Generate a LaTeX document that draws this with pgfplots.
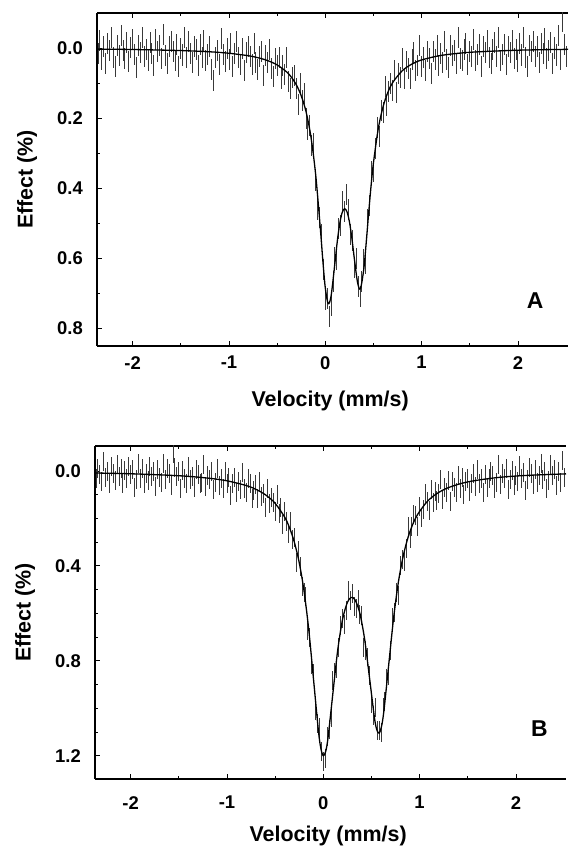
\documentclass[border=0pt]{standalone}
\usepackage{pgfplots}
\pgfplotsset{compat=1.18}
\usepackage{pgfplotstable}
\usepackage{fontspec}
\setmainfont{Liberation Sans}

\pgfplotstableread[row sep=\\]{
x y\\
-2.36 0.015\\ -2.34 -0.022\\ -2.32 0.033\\ -2.30 -0.005\\ -2.28 0.044\\ -2.26 -0.012\\ -2.24 0.008\\ -2.22 -0.030\\ -2.20 0.026\\ -2.18 0.052\\
-2.16 -0.006\\ -2.14 0.022\\ -2.12 -0.036\\ -2.10 0.007\\ -2.08 0.031\\ -2.06 -0.015\\ -2.04 0.039\\ -2.02 -0.001\\ -2.00 -0.024\\ -1.98 0.018\\
-1.96 0.056\\ -1.94 -0.008\\ -1.92 0.012\\ -1.90 -0.031\\ -1.88 0.025\\ -1.86 0.003\\ -1.84 0.036\\ -1.82 -0.017\\ -1.80 0.016\\ -1.78 0.049\\
-1.76 -0.025\\ -1.74 0.011\\ -1.72 -0.008\\ -1.70 0.031\\ -1.68 -0.039\\ -1.66 0.022\\ -1.64 0.044\\ -1.62 -0.003\\ -1.60 -0.018\\ -1.58 0.009\\
-1.56 0.036\\ -1.54 -0.010\\ -1.52 0.053\\ -1.50 0.001\\ -1.48 0.020\\ -1.46 -0.031\\ -1.44 0.028\\ -1.42 -0.019\\ -1.40 0.017\\ -1.38 0.042\\
-1.36 -0.003\\ -1.34 0.005\\ -1.32 0.049\\ -1.30 -0.011\\ -1.28 0.027\\ -1.26 -0.022\\ -1.24 0.036\\ -1.22 0.018\\ -1.20 -0.005\\ -1.18 0.061\\
-1.16 0.092\\ -1.14 0.028\\ -1.12 0.006\\ -1.10 0.046\\ -1.08 -0.028\\ -1.06 0.018\\ -1.04 0.038\\ -1.02 0.001\\ -1.00 0.034\\ -0.98 -0.014\\
-0.96 0.053\\ -0.94 0.016\\ -0.92 -0.018\\ -0.90 0.028\\ -0.88 0.047\\ -0.86 0.001\\ -0.84 0.063\\ -0.82 0.013\\ -0.80 -0.004\\ -0.78 0.024\\
-0.76 0.048\\ -0.74 -0.013\\ -0.72 0.041\\ -0.70 0.060\\ -0.68 0.025\\ -0.66 0.010\\ -0.64 0.079\\ -0.62 0.022\\ -0.60 0.042\\ -0.58 0.004\\
-0.56 0.058\\ -0.54 0.082\\ -0.52 0.030\\ -0.50 0.050\\ -0.48 0.027\\ -0.46 0.086\\ -0.44 0.051\\ -0.42 0.077\\ -0.40 0.026\\ -0.38 0.097\\
-0.36 0.117\\ -0.34 0.083\\ -0.32 0.078\\ -0.30 0.117\\ -0.28 0.162\\ -0.26 0.101\\ -0.24 0.149\\ -0.22 0.130\\ -0.20 0.202\\ -0.18 0.234\\
-0.16 0.221\\ -0.14 0.278\\ -0.12 0.273\\ -0.10 0.377\\ -0.08 0.461\\ -0.06 0.483\\ -0.04 0.533\\ -0.02 0.632\\ 0.00 0.718\\ 0.02 0.715\\
0.04 0.768\\ 0.06 0.734\\ 0.08 0.668\\ 0.10 0.597\\ 0.12 0.603\\ 0.14 0.515\\ 0.16 0.507\\ 0.18 0.437\\ 0.20 0.468\\ 0.22 0.417\\
0.24 0.461\\ 0.26 0.534\\ 0.28 0.551\\ 0.30 0.627\\ 0.32 0.601\\ 0.34 0.680\\ 0.36 0.710\\ 0.38 0.667\\ 0.40 0.604\\ 0.42 0.614\\
0.44 0.489\\ 0.46 0.451\\ 0.48 0.352\\ 0.50 0.354\\ 0.52 0.287\\ 0.54 0.227\\ 0.56 0.253\\ 0.58 0.179\\ 0.60 0.185\\ 0.62 0.110\\
0.64 0.164\\ 0.66 0.124\\ 0.68 0.100\\ 0.70 0.120\\ 0.72 0.065\\ 0.74 0.127\\ 0.76 0.074\\ 0.78 0.085\\ 0.80 0.030\\ 0.82 0.088\\
0.84 0.038\\ 0.86 0.058\\ 0.88 0.086\\ 0.90 0.034\\ 0.92 0.014\\ 0.94 0.064\\ 0.96 0.049\\ 0.98 -0.006\\ 1.00 0.052\\ 1.02 0.026\\
1.04 0.064\\ 1.06 0.009\\ 1.08 0.031\\ 1.10 0.073\\ 1.12 0.011\\ 1.14 0.034\\ 1.16 -0.008\\ 1.18 0.049\\ 1.20 0.017\\ 1.22 0.040\\
1.24 -0.019\\ 1.26 0.032\\ 1.28 0.057\\ 1.30 -0.006\\ 1.32 0.021\\ 1.34 0.006\\ 1.36 0.045\\ 1.38 -0.030\\ 1.40 0.030\\ 1.42 0.036\\
1.44 0.005\\ 1.46 -0.014\\ 1.48 0.048\\ 1.50 0.011\\ 1.52 0.024\\ 1.54 -0.023\\ 1.56 0.036\\ 1.58 0.019\\ 1.60 -0.009\\ 1.62 0.053\\
1.64 -0.004\\ 1.66 0.012\\ 1.68 -0.021\\ 1.70 0.028\\ 1.72 0.043\\ 1.74 0.003\\ 1.76 -0.016\\ 1.78 0.023\\ 1.80 -0.031\\ 1.82 0.036\\
1.84 0.018\\ 1.86 -0.009\\ 1.88 0.047\\ 1.90 -0.004\\ 1.92 0.014\\ 1.94 -0.021\\ 1.96 0.030\\ 1.98 0.004\\ 2.00 0.038\\ 2.02 -0.014\\
2.04 0.020\\ 2.06 -0.031\\ 2.08 0.027\\ 2.10 0.053\\ 2.12 -0.007\\ 2.14 0.010\\ 2.16 -0.019\\ 2.18 0.024\\ 2.20 -0.004\\ 2.22 0.040\\
2.24 -0.012\\ 2.26 0.016\\ 2.28 -0.026\\ 2.30 0.031\\ 2.32 0.006\\ 2.34 -0.017\\ 2.36 0.043\\ 2.38 0.000\\ 2.40 0.020\\ 2.42 -0.037\\
2.44 0.033\\ 2.46 -0.075\\ 2.48 -0.011\\ 2.50 0.024\\
}\dataA

\pgfplotstableread[row sep=\\]{
x y\\
-2.37 0.0031\\ -2.0 0.0043\\ -1.5 0.0073\\ -1.2 0.0108\\ -1.0 0.0150\\ -0.8 0.0220\\ -0.7 0.0277\\ -0.6 0.0358\\ -0.5 0.0482\\ -0.4 0.0686\\
-0.35 0.0841\\ -0.3 0.1055\\ -0.25 0.1361\\ -0.2 0.1816\\ -0.15 0.2517\\ -0.1 0.3610\\ -0.05 0.5197\\ -0.025 0.6084\\ 0.0 0.6847\\ 0.03 0.7299\\
0.06 0.7087\\ 0.1 0.6143\\ 0.125 0.5513\\ 0.15 0.5016\\ 0.175 0.4702\\ 0.2 0.4590\\ 0.225 0.4674\\ 0.25 0.4953\\ 0.275 0.5408\\ 0.3 0.5975\\
0.335 0.6695\\ 0.365 0.6871\\ 0.4 0.6310\\ 0.425 0.5557\\ 0.45 0.4723\\ 0.475 0.3946\\ 0.5 0.3282\\ 0.55 0.2304\\ 0.6 0.1675\\ 0.65 0.1264\\
0.7 0.0985\\ 0.8 0.0647\\ 0.9 0.0458\\ 1.0 0.0342\\ 1.2 0.0213\\ 1.5 0.0123\\ 2.0 0.0063\\ 2.52 0.0038\\
}\fitA

\pgfplotstableread[row sep=\\]{
x y\\
-2.36 0.033\\ -2.34 -0.009\\ -2.32 0.016\\ -2.30 0.044\\ -2.28 -0.040\\ -2.26 0.028\\ -2.24 0.003\\ -2.22 0.055\\ -2.20 -0.017\\ -2.18 0.011\\
-2.16 0.041\\ -2.14 -0.027\\ -2.12 0.023\\ -2.10 -0.010\\ -2.08 0.053\\ -2.06 0.000\\ -2.04 0.033\\ -2.02 -0.018\\ -2.00 0.017\\ -1.98 -0.004\\
-1.96 0.069\\ -1.94 0.038\\ -1.92 -0.031\\ -1.90 0.030\\ -1.88 -0.011\\ -1.86 0.051\\ -1.84 0.010\\ -1.82 0.042\\ -1.80 -0.020\\ -1.78 0.022\\
-1.76 0.002\\ -1.74 0.064\\ -1.72 -0.004\\ -1.70 0.029\\ -1.68 0.050\\ -1.66 -0.030\\ -1.64 0.036\\ -1.62 -0.011\\ -1.60 0.011\\ -1.58 0.060\\
-1.56 -0.075\\ -1.54 -0.016\\ -1.52 0.022\\ -1.50 0.003\\ -1.48 0.073\\ -1.46 -0.002\\ -1.44 0.031\\ -1.42 0.052\\ -1.40 -0.018\\ -1.38 0.038\\
-1.36 0.023\\ -1.34 0.068\\ -1.32 -0.007\\ -1.30 0.017\\ -1.28 0.054\\ -1.26 0.047\\ -1.24 -0.025\\ -1.22 0.065\\ -1.20 0.018\\ -1.18 0.037\\
-1.16 0.004\\ -1.14 0.080\\ -1.12 0.050\\ -1.10 -0.011\\ -1.08 0.060\\ -1.06 0.032\\ -1.04 0.072\\ -1.02 0.002\\ -1.00 0.053\\ -0.98 0.026\\
-0.96 0.102\\ -0.94 0.053\\ -0.92 0.027\\ -0.90 0.092\\ -0.88 0.046\\ -0.86 0.078\\ -0.84 0.008\\ -0.82 0.073\\ -0.80 0.091\\ -0.78 0.030\\
-0.76 0.054\\ -0.74 0.115\\ -0.72 0.081\\ -0.70 0.056\\ -0.68 0.116\\ -0.66 0.044\\ -0.64 0.109\\ -0.62 0.094\\ -0.60 0.154\\ -0.58 0.076\\
-0.56 0.139\\ -0.54 0.110\\ -0.52 0.133\\ -0.50 0.173\\ -0.48 0.099\\ -0.46 0.178\\ -0.44 0.153\\ -0.42 0.224\\ -0.40 0.171\\ -0.38 0.214\\
-0.36 0.262\\ -0.34 0.212\\ -0.32 0.288\\ -0.30 0.282\\ -0.28 0.385\\ -0.26 0.337\\ -0.24 0.404\\ -0.22 0.486\\ -0.20 0.514\\ -0.18 0.530\\
-0.16 0.674\\ -0.14 0.701\\ -0.12 0.816\\ -0.10 0.855\\ -0.08 1.010\\ -0.06 1.065\\ -0.04 1.081\\ -0.02 1.182\\ 0.00 1.225\\ 0.02 1.210\\
0.04 1.118\\ 0.06 1.089\\ 0.08 1.040\\ 0.10 0.883\\ 0.12 0.851\\ 0.14 0.831\\ 0.16 0.743\\ 0.18 0.652\\ 0.20 0.622\\ 0.22 0.646\\
0.24 0.588\\ 0.26 0.504\\ 0.28 0.548\\ 0.30 0.517\\ 0.32 0.572\\ 0.34 0.579\\ 0.36 0.541\\ 0.38 0.606\\ 0.40 0.610\\ 0.42 0.743\\
0.44 0.756\\ 0.46 0.784\\ 0.48 0.864\\ 0.50 0.980\\ 0.52 1.029\\ 0.54 0.998\\ 0.56 1.093\\ 0.58 1.094\\ 0.60 1.103\\ 0.62 0.998\\
0.64 0.972\\ 0.66 0.874\\ 0.68 0.861\\ 0.70 0.758\\ 0.72 0.618\\ 0.74 0.596\\ 0.76 0.514\\ 0.78 0.524\\ 0.80 0.399\\ 0.82 0.375\\
0.84 0.381\\ 0.86 0.328\\ 0.88 0.233\\ 0.90 0.286\\ 0.92 0.236\\ 0.94 0.185\\ 0.96 0.189\\ 0.98 0.235\\ 1.00 0.150\\ 1.02 0.195\\
1.04 0.162\\ 1.06 0.097\\ 1.08 0.128\\ 1.10 0.166\\ 1.12 0.080\\ 1.14 0.132\\ 1.16 0.086\\ 1.18 0.124\\ 1.20 0.095\\ 1.22 0.036\\
1.24 0.120\\ 1.26 0.068\\ 1.28 0.090\\ 1.30 0.042\\ 1.32 0.127\\ 1.34 0.045\\ 1.36 0.070\\ 1.38 0.091\\ 1.40 0.019\\ 1.42 0.075\\
1.44 0.029\\ 1.46 0.099\\ 1.48 0.045\\ 1.50 0.033\\ 1.52 0.086\\ 1.54 0.055\\ 1.56 0.010\\ 1.58 0.066\\ 1.60 -0.007\\ 1.62 0.054\\
1.64 0.030\\ 1.66 0.091\\ 1.68 0.015\\ 1.70 0.068\\ 1.72 0.034\\ 1.74 0.002\\ 1.76 0.019\\ 1.78 0.075\\ 1.80 0.047\\ 1.82 -0.026\\
1.84 0.057\\ 1.86 0.009\\ 1.88 0.033\\ 1.90 -0.011\\ 1.92 0.077\\ 1.94 0.037\\ 1.96 -0.003\\ 1.98 0.060\\ 2.00 0.020\\ 2.02 0.046\\
2.04 -0.022\\ 2.06 0.031\\ 2.08 0.006\\ 2.10 0.081\\ 2.12 0.036\\ 2.14 -0.016\\ 2.16 0.012\\ 2.18 0.059\\ 2.20 -0.006\\ 2.22 0.048\\
2.24 0.020\\ 2.26 -0.032\\ 2.28 0.037\\ 2.30 0.003\\ 2.32 0.072\\ 2.34 0.040\\ 2.36 -0.026\\ 2.38 0.019\\ 2.40 -0.005\\ 2.42 0.062\\
2.44 0.002\\ 2.46 0.048\\ 2.48 -0.045\\ 2.50 0.026\\
}\dataB

\pgfplotstableread[row sep=\\]{
x y\\
-2.37 0.0088\\ -2.0 0.0120\\ -1.5 0.0203\\ -1.2 0.0302\\ -1.0 0.0417\\ -0.8 0.0616\\ -0.7 0.0775\\ -0.6 0.1007\\ -0.5 0.1364\\ -0.4 0.1953\\
-0.35 0.2399\\ -0.3 0.3008\\ -0.25 0.3858\\ -0.2 0.5056\\ -0.15 0.6717\\ -0.1 0.8839\\ -0.05 1.0966\\ -0.025 1.1696\\ 0.0 1.2000\\ 0.025 1.1820\\
0.05 1.1217\\ 0.1 0.9359\\ 0.15 0.7546\\ 0.2 0.6259\\ 0.25 0.5540\\ 0.29 0.5331\\ 0.33 0.5432\\ 0.38 0.6002\\ 0.43 0.7111\\ 0.48 0.8713\\
0.53 1.0364\\ 0.555 1.0898\\ 0.58 1.1049\\ 0.605 1.0762\\ 0.63 1.0088\\ 0.68 0.8139\\ 0.73 0.6198\\ 0.78 0.4678\\ 0.83 0.3581\\ 0.88 0.2801\\
0.93 0.2240\\ 0.98 0.1829\\ 1.08 0.1285\\ 1.18 0.0953\\ 1.3 0.0702\\ 1.5 0.0462\\ 1.8 0.0283\\ 2.1 0.0192\\ 2.52 0.0124\\
}\fitB

\pgfplotsset{
  moss/.style={
    scale only axis,
    width=471bp, height=333bp,
    xmin=-2.37, xmax=2.52,
    y dir=reverse,
    axis x line*=box, axis y line*=left,
    xtick={-2,-1,0,1,2}, xticklabels={-2,-1,0,1,2},
    minor x tick num=1,
    tick align=inside,
    major tick length=5bp, minor tick length=3bp,
    every tick/.style={black, line width=0.8bp},
    axis line style={black, line width=1.2bp},
    tick label style={font=\fontsize{18.5}{18.5}\selectfont\bfseries, inner sep=0pt},
    yticklabel style={anchor=east, xshift=-14bp},
    xlabel={Velocity (mm/s)},
    ylabel={Effect (\%)},
    label style={font=\fontsize{21.5}{21.5}\selectfont\bfseries, inner sep=0pt},
    ylabel style={at={(axis description cs:-0.1486,0.5)}, anchor=center},
  },
  databars/.style={draw=none, mark=none,
    error bars/.cd, y dir=both, y fixed=#1, error mark=none,
    error bar style={draw=gray!45!black, line width=0.9bp}},
  fitline/.style={black, line width=1.3bp, smooth, no marks},
}

\begin{document}
\begin{tikzpicture}[x=1bp,y=1bp]
\useasboundingbox (0,0) rectangle (569,846);
\begin{axis}[moss,
  at={(97bp,500bp)}, anchor=south west,
  ymin=-0.1, ymax=0.851,
  ytick={0,0.2,0.4,0.6,0.8}, yticklabels={0.0,0.2,0.4,0.6,0.8},
  minor y tick num=1,
  xticklabel style={anchor=north, yshift=-10bp},
  xlabel style={at={(axis description cs:0.495,-0.183)}, anchor=base},
]
\addplot[databars=0.03] table[x=x,y=y]{\dataA};
\addplot[fitline] table[x=x,y=y]{\fitA};
\node[font=\fontsize{23}{23}\selectfont\bfseries] at (axis cs:2.18,0.72) {A};
\end{axis}
\begin{axis}[moss,
  at={(95bp,67bp)}, anchor=south west,
  ymin=-0.105, ymax=1.298,
  ytick={0,0.4,0.8,1.2}, yticklabels={0.0,0.4,0.8,1.2},
  minor y tick num=3,
  xticklabel style={anchor=north, yshift=-17bp},
  xlabel style={at={(axis description cs:0.495,-0.189)}, anchor=base},
]
\addplot[databars=0.04] table[x=x,y=y]{\dataB};
\addplot[fitline] table[x=x,y=y]{\fitB};
\node[font=\fontsize{23}{23}\selectfont\bfseries] at (axis cs:2.245,1.085) {B};
\end{axis}
\end{tikzpicture}
\end{document}
